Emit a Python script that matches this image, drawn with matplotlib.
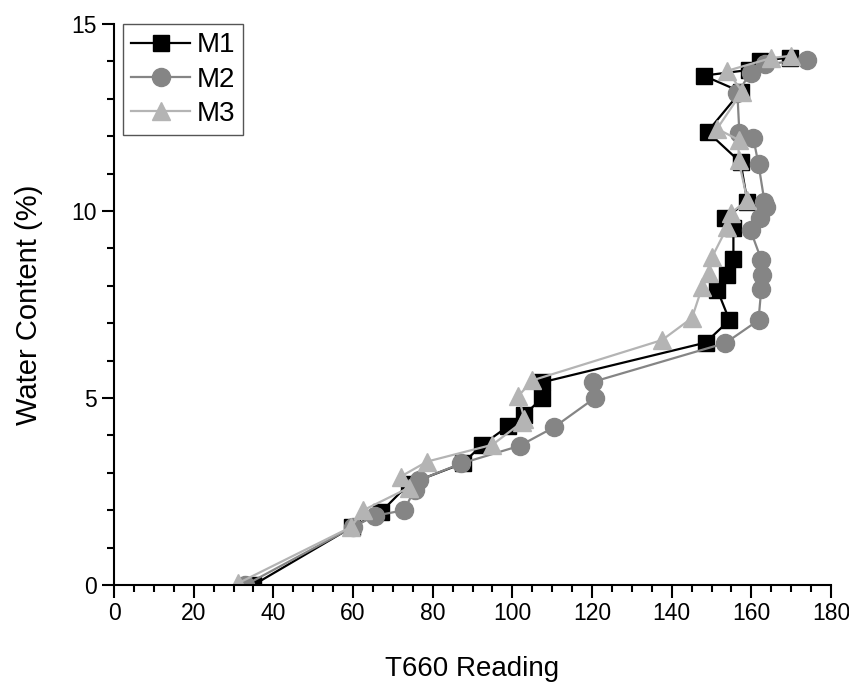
import matplotlib
matplotlib.use("Agg")
import matplotlib.pyplot as plt
from matplotlib.ticker import MultipleLocator

plt.rcParams['font.family'] = ['Liberation Sans', 'DejaVu Sans']

# M1 (black squares)
m1_x = [35, 59.8, 67, 74, 87.5, 92.5, 99, 103, 107.5, 107.5, 148.5, 154.5, 151.5, 154, 155.5,
        155.5, 153.5, 159, 157.3, 149, 157.3, 148, 159.3, 162.3, 169.8]
m1_y = [0, 1.55, 1.95, 2.7, 3.25, 3.75, 4.25, 4.55, 5.0, 5.42, 6.48, 7.08, 7.88, 8.3, 8.72,
        9.55, 9.82, 10.25, 11.3, 12.12, 13.19, 13.62, 13.77, 14.02, 14.1]

# M2 (grey circles)
m2_x = [33, 60, 65.5, 72.8, 75.5, 76.5, 87.2, 101.8, 110.5, 120.7, 120.2, 153.5, 161.8, 162.5,
        162.8, 162.5, 159.8, 162.3, 163.8, 163.3, 161.8, 160.5, 157, 156.5, 159.8, 163.5, 174]
m2_y = [0, 1.55, 1.85, 2.0, 2.55, 2.8, 3.25, 3.72, 4.22, 5.0, 5.43, 6.47, 7.08, 7.92,
        8.3, 8.7, 9.48, 9.8, 10.1, 10.25, 11.25, 11.95, 12.08, 13.15, 13.7, 13.92, 14.05]

# M3 (light grey triangles)
m3_x = [31.2, 59.5, 62.6, 74, 72, 78.6, 95, 102.4, 103, 101.5, 105, 137.6, 145.1, 147.7, 149.3,
        150.2, 154, 154.8, 159, 156.8, 156.8, 151.4, 157.7, 154, 165, 170]
m3_y = [0.05, 1.55, 2.0, 2.6, 2.9, 3.3, 3.75, 4.35, 4.45, 5.05, 5.47, 6.55, 7.14, 7.98, 8.34,
        8.78, 9.58, 9.94, 10.29, 11.36, 11.9, 12.2, 13.19, 13.75, 14.09, 14.15]

fig = plt.figure(figsize=(8.49, 6.93), dpi=100)
ax = fig.add_axes([114/849, 1-585/693, 717/849, 561/693])

ax.plot(m1_x, m1_y, color='black', lw=1.6, marker='s', ms=12, mfc='black', mec='black', label='M1')
ax.plot(m2_x, m2_y, color='#858585', lw=1.6, marker='o', ms=13, mfc='#858585', mec='#858585', label='M2')
ax.plot(m3_x, m3_y, color='#b4b4b4', lw=1.6, marker='^', ms=13.5, mfc='#b4b4b4', mec='#b4b4b4', label='M3')

ax.set_xlim(0, 180)
ax.set_ylim(0, 15)
ax.xaxis.set_major_locator(MultipleLocator(20))
ax.xaxis.set_minor_locator(MultipleLocator(5))
ax.yaxis.set_major_locator(MultipleLocator(5))
ax.yaxis.set_minor_locator(MultipleLocator(1))
for s in ['top', 'right']:
    ax.spines[s].set_visible(False)
for s in ['left', 'bottom']:
    ax.spines[s].set_linewidth(1.5)
ax.tick_params(which='major', direction='out', length=9, width=1.5, labelsize=16.5)
ax.tick_params(which='minor', direction='out', length=5, width=1.5)
ax.set_xlabel('T660 Reading', fontsize=20, labelpad=22)
ax.set_ylabel('Water Content (%)', fontsize=21, labelpad=20)

leg = ax.legend(loc='upper left', bbox_to_anchor=(0.0126, 1.0), borderaxespad=0,
                fontsize=20, handlelength=2.1, labelspacing=0.3, handletextpad=0.25,
                borderpad=0.3, fancybox=False, framealpha=1, edgecolor='#555555')
leg.get_frame().set_linewidth(1.0)

fig.savefig('out.png', dpi=100)
